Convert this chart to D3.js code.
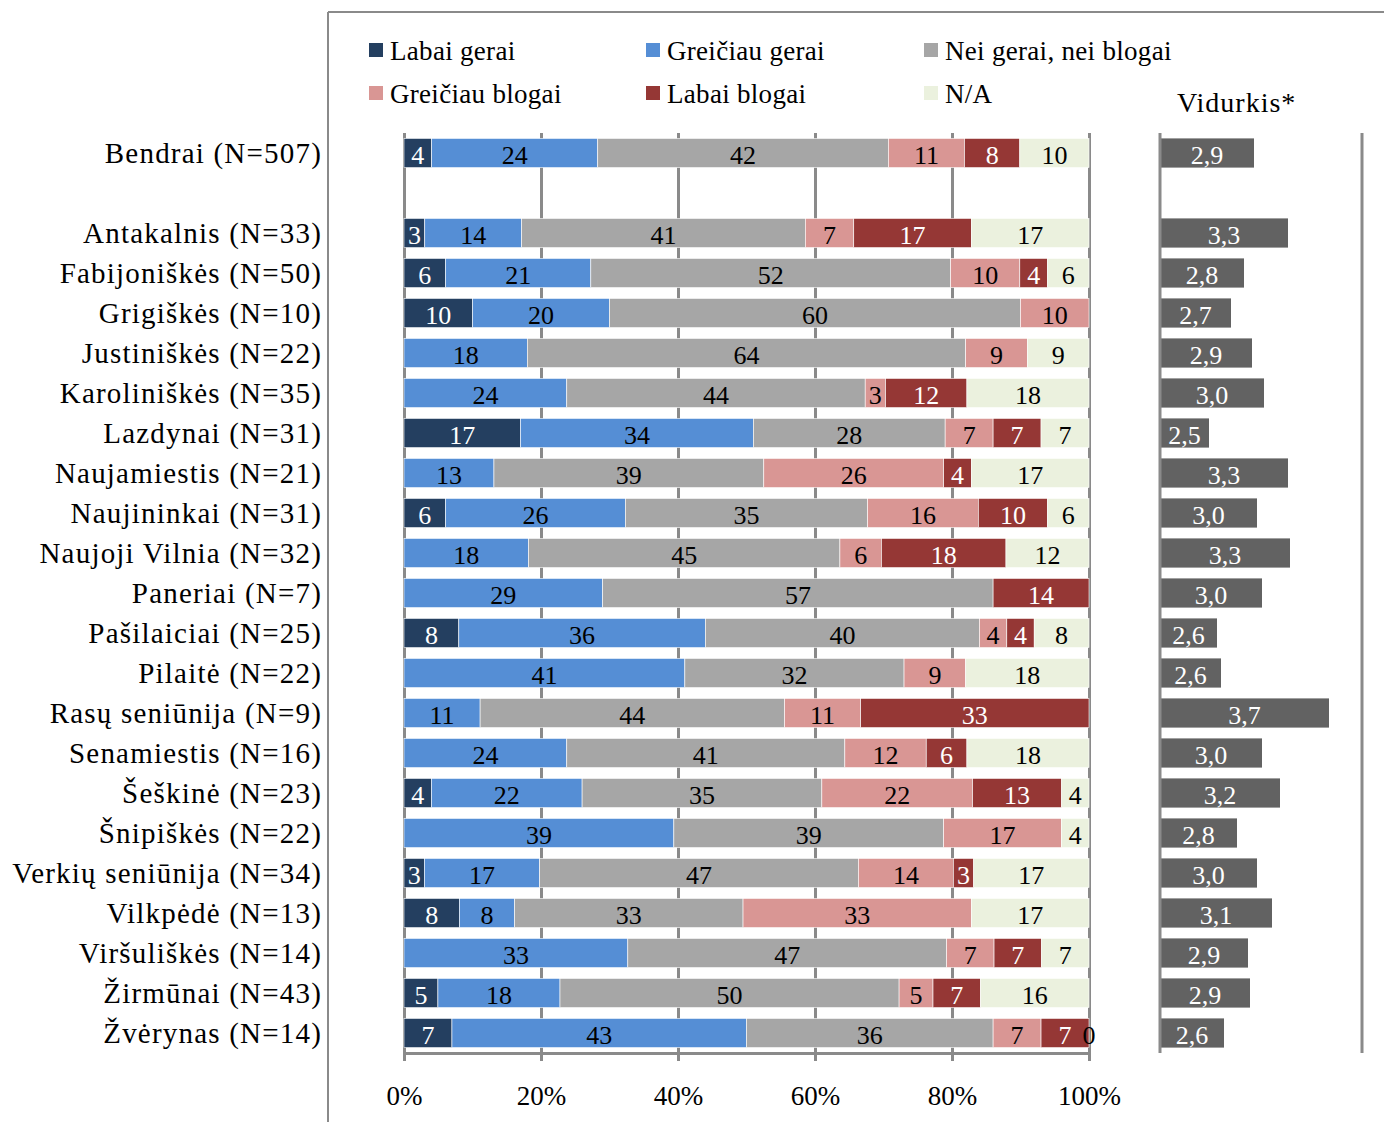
<!DOCTYPE html>
<meta charset="utf-8">
<body style="margin:0; background:#fff">
<script src="https://cdn.jsdelivr.net/npm/d3@7"></script>
<script>
    // categories (first one is the total, drawn apart from the rest)
    const categories = [
        "Bendrai (N=507)",
        "Antakalnis (N=33)", "Fabijoniškės (N=50)", "Grigiškės (N=10)", "Justiniškės (N=22)",
        "Karoliniškės (N=35)", "Lazdynai (N=31)", "Naujamiestis (N=21)", "Naujininkai (N=31)",
        "Naujoji Vilnia (N=32)", "Paneriai (N=7)", "Pašilaiciai (N=25)", "Pilaitė (N=22)",
        "Rasų seniūnija (N=9)", "Senamiestis (N=16)", "Šeškinė (N=23)", "Šnipiškės (N=22)",
        "Verkių seniūnija (N=34)", "Vilkpėdė (N=13)", "Viršuliškės (N=14)", "Žirmūnai (N=43)",
        "Žvėrynas (N=14)"
    ];

    const seriesNames = ["Labai gerai", "Greičiau gerai", "Nei gerai, nei blogai",
        "Greičiau blogai", "Labai blogai", "N/A"];
    const seriesColors = ["#243f60", "#558ed5", "#a6a6a6", "#d99694", "#953735", "#ebf1de"];
    const labelColors = ["#fff", "#000", "#000", "#000", "#fff", "#000"];

    // percentages, null = no segment / no label
    const labaiGerai    = [4, 3, 6, 10, null, null, 17, null, 6, null, null, 8, null, null, null, 4, null, 3, 8, null, 5, 7];
    const greiciauGerai = [24, 14, 21, 20, 18, 24, 34, 13, 26, 18, 29, 36, 41, 11, 24, 22, 39, 17, 8, 33, 18, 43];
    const neiGerai      = [42, 41, 52, 60, 64, 44, 28, 39, 35, 45, 57, 40, 32, 44, 41, 35, 39, 47, 33, 47, 50, 36];
    const greiciauBlogai= [11, 7, 10, 10, 9, 3, 7, 26, 16, 6, null, 4, 9, 11, 12, 22, 17, 14, 33, 7, 5, 7];
    const labaiBlogai   = [8, 17, 4, null, null, 12, 7, 4, 10, 18, 14, 4, null, 33, 6, 13, null, 3, null, 7, 7, 7];
    const na            = [10, 17, 6, null, 9, 18, 7, 17, 6, 12, null, 8, 18, null, 18, 4, 4, 17, 17, 7, 16, 0];

    // averages (Vidurkis*)
    const means = [2.94, 3.28, 2.84, 2.71, 2.92, 3.04, 2.49, 3.28, 2.97, 3.30, 3.02,
        2.57, 2.61, 3.69, 3.02, 3.20, 2.77, 2.97, 3.12, 2.88, 2.90, 2.64];

    const xTicks = [0, 0.2, 0.4, 0.6, 0.8, 1];

    const width = 1384, height = 1122;
    const plotTop = 133, plotBottom = 1053;
    const serif = "Liberation Serif";
    const lineColor = "#8a8a8a";

    const svg = d3.select("body").append("svg")
        .attr("width", width)
        .attr("height", height)
        .style("font-family", serif);

    const series = [labaiGerai, greiciauGerai, neiGerai, greiciauBlogai, labaiBlogai, na];

    const rows = categories.map((c, i) => {
        const r = {name: c};
        let total = 0;
        series.forEach((s, k) => { r[k] = s[i]; total += s[i] || 0; });
        r.total = total;
        r.mean = means[i];
        return r;
    });

    const rowKeys = [categories[0], "gap", ...categories.slice(1)];

    const y = d3.scaleBand()
        .domain(rowKeys)
        .range([plotTop, plotBottom])
        .paddingInner(0.27)
        .paddingOuter(0.135);

    const x = d3.scaleLinear().domain([0, 1]).range([404, 1089]);
    const xm = d3.scaleLinear().domain([2, 4]).range([1160, 1360]);

    // frame
    svg.append("line").attr("x1", 328).attr("x2", 328).attr("y1", 12).attr("y2", height)
        .attr("stroke", lineColor).attr("stroke-width", 2);
    svg.append("line").attr("x1", 328).attr("x2", width).attr("y1", 12).attr("y2", 12)
        .attr("stroke", lineColor).attr("stroke-width", 2);

    // grid lines
    const grid = svg.append("g")
        .attr("transform", "translate(0," + plotBottom + ")")
        .call(d3.axisBottom(x).tickValues(xTicks).tickSize(-(plotBottom - plotTop)).tickFormat(""));
    grid.select(".domain").remove();
    grid.selectAll("line").attr("stroke", lineColor).attr("stroke-width", 3);

    // stacked bars
    const stack = d3.stack()
        .keys(d3.range(series.length))
        .value((d, k) => (d[k] || 0) / d.total);

    const layers = svg.append("g").selectAll("g")
        .data(stack(rows))
        .join("g")
        .attr("fill", (d, k) => seriesColors[k]);

    layers.selectAll("rect")
        .data(d => d)
        .join("rect")
        .attr("x", d => x(d[0]))
        .attr("width", d => x(d[1]) - x(d[0]))
        .attr("y", d => y(d.data.name))
        .attr("height", y.bandwidth())
        .attr("stroke", "#fff")
        .attr("stroke-width", 0.6);

    layers.each(function(layer, k) {
        d3.select(this).selectAll("text")
            .data(layer.filter(d => d.data[k] !== null))
            .join("text")
            .attr("x", d => x((d[0] + d[1]) / 2))
            .attr("y", d => y(d.data.name) + y.bandwidth() / 2)
            .attr("dy", "0.42em")
            .attr("text-anchor", "middle")
            .attr("fill", labelColors[k])
            .style("font-family", serif)
            .style("font-size", "26px")
            .text(d => d.data[k]);
    });

    // x axis
    const xAxis = svg.append("g")
        .attr("transform", "translate(0," + plotBottom + ")")
        .call(d3.axisBottom(x).tickValues(xTicks).tickSize(8).tickSizeOuter(0).tickFormat(d3.format(".0%")));
    xAxis.select(".domain").attr("stroke", lineColor).attr("stroke-width", 3);
    xAxis.selectAll("line").attr("stroke", lineColor).attr("stroke-width", 3);
    xAxis.selectAll("text")
        .attr("y", 33)
        .attr("fill", "#000")
        .style("font-family", serif)
        .style("font-size", "27px");

    // category labels
    svg.append("g").selectAll("text")
        .data(categories)
        .join("text")
        .attr("x", 322)
        .attr("y", d => y(d) + y.bandwidth() / 2)
        .attr("dy", "0.36em")
        .attr("text-anchor", "end")
        .style("font-family", serif)
        .style("font-size", "29px")
        .style("letter-spacing", "1.2px")
        .text(d => d);

    // averages panel
    svg.append("text")
        .attr("x", 1177)
        .attr("y", 112)
        .style("font-family", serif)
        .style("font-size", "28px")
        .style("letter-spacing", "1px")
        .text("Vidurkis*");

    svg.append("g").selectAll("rect")
        .data(rows)
        .join("rect")
        .attr("x", xm(2))
        .attr("width", d => xm(d.mean) - xm(2))
        .attr("y", d => y(d.name))
        .attr("height", y.bandwidth())
        .attr("fill", "#626262");

    svg.append("g").selectAll("text")
        .data(rows)
        .join("text")
        .attr("x", d => (xm(2) + xm(d.mean)) / 2)
        .attr("y", d => y(d.name) + y.bandwidth() / 2)
        .attr("dy", "0.42em")
        .attr("text-anchor", "middle")
        .attr("fill", "#fff")
        .style("font-family", serif)
        .style("font-size", "26px")
        .text(d => d3.format(".1f")(d.mean).replace(".", ","));

    svg.append("line").attr("x1", xm(2)).attr("x2", xm(2)).attr("y1", plotTop).attr("y2", plotBottom)
        .attr("stroke", lineColor).attr("stroke-width", 3);
    svg.append("line").attr("x1", 1362).attr("x2", 1362).attr("y1", plotTop).attr("y2", plotBottom)
        .attr("stroke", lineColor).attr("stroke-width", 3);

    // legend
    const legendPos = [[369, 50], [646, 50], [924, 50], [369, 93], [646, 93], [924, 93]];
    const legend = svg.append("g").selectAll("g")
        .data(seriesNames)
        .join("g")
        .attr("transform", (d, i) => "translate(" + legendPos[i][0] + "," + legendPos[i][1] + ")");
    legend.append("rect")
        .attr("y", -7)
        .attr("width", 14)
        .attr("height", 14)
        .attr("fill", (d, i) => seriesColors[i]);
    legend.append("text")
        .attr("x", 21)
        .attr("dy", "0.36em")
        .style("font-family", serif)
        .style("font-size", "27px")
        .style("letter-spacing", "0.3px")
        .text(d => d);
</script>
</body>
